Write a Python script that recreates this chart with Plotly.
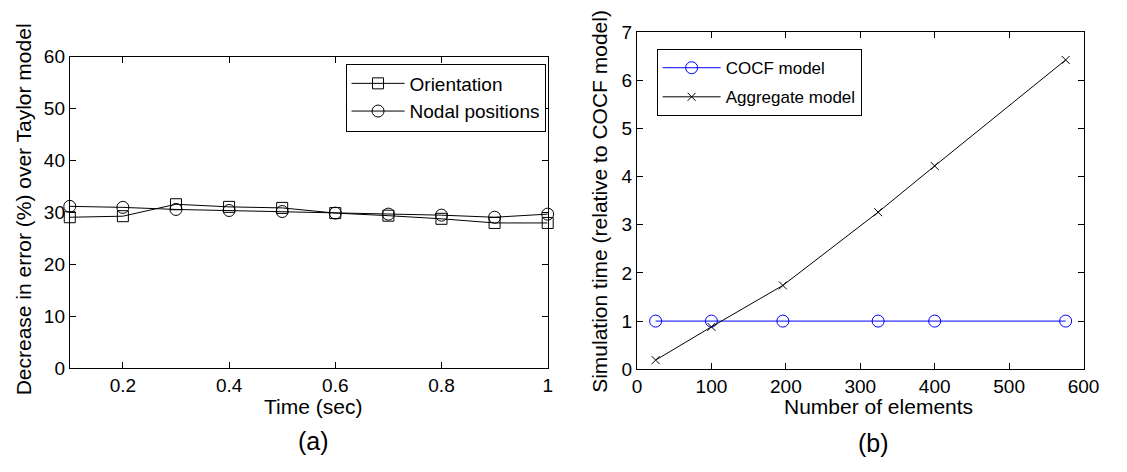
import plotly.graph_objects as go

# ---- data ----
time_sec = [0.1, 0.2, 0.3, 0.4, 0.5, 0.6, 0.7, 0.8, 0.9, 1.0]
orientation = [29.1, 29.3, 31.6, 31.1, 30.9, 29.9, 29.4, 28.8, 28.0, 28.0]
nodal_positions = [31.2, 31.0, 30.6, 30.4, 30.2, 29.9, 29.7, 29.5, 29.1, 29.7]

num_elements = [25, 100, 196, 324, 400, 576]
cocf_model = [1, 1, 1, 1, 1, 1]
aggregate_model = [0.19, 0.88, 1.74, 3.26, 4.22, 6.42]

xa_ticks = [0.2, 0.4, 0.6, 0.8, 1.0]
xa_labels = ["0.2", "0.4", "0.6", "0.8", "1"]

FONT = "Liberation Sans, Arial, sans-serif"
FS = 19      # tick labels
FT = 21      # axis titles
W, H = 1127, 472

def px(x):
    return x / W

def py(y):
    return 1 - y / H

fig = go.Figure()

fig.add_trace(go.Scatter(
    x=time_sec, y=orientation, name="Orientation", mode="lines+markers",
    line=dict(color="black", width=1), cliponaxis=False,
    marker=dict(symbol="square-open", size=11, color="black", line=dict(width=1)),
    xaxis="x", yaxis="y", legend="legend"))
fig.add_trace(go.Scatter(
    x=time_sec, y=nodal_positions, name="Nodal positions", mode="lines+markers",
    line=dict(color="black", width=1), cliponaxis=False,
    marker=dict(symbol="circle-open", size=12, color="black", line=dict(width=1)),
    xaxis="x", yaxis="y", legend="legend"))

fig.add_trace(go.Scatter(
    x=num_elements, y=cocf_model, name="COCF model", mode="lines+markers",
    line=dict(color="#0000ff", width=1), cliponaxis=False,
    marker=dict(symbol="circle-open", size=12, color="#0000ff", line=dict(width=1)),
    xaxis="x2", yaxis="y2", legend="legend2", legendgroup="c"))
fig.add_trace(go.Scatter(
    x=num_elements, y=aggregate_model, name="Aggregate model", mode="lines+markers",
    line=dict(color="black", width=1), cliponaxis=False,
    marker=dict(symbol="x-thin-open", size=8, color="black", line=dict(width=1, color="black")),
    xaxis="x2", yaxis="y2", legend="legend2", legendgroup="a"))

axis_common = dict(
    showline=True, linecolor="black", linewidth=1, mirror="allticks",
    ticks="inside", ticklen=6, tickcolor="black", showgrid=False, zeroline=False,
    tickfont=dict(family=FONT, size=FS, color="black"),
)

title_font = dict(family=FONT, size=FT, color="black")

fig.update_layout(
    width=W, height=H,
    margin=dict(l=0, r=0, t=0, b=0),
    paper_bgcolor="white", plot_bgcolor="white",
    font=dict(family=FONT, size=FS, color="black"),
    xaxis=dict(domain=[px(66), px(553)], anchor="y", range=[0.1, 1.0],
               tickvals=xa_ticks, ticktext=xa_labels, **axis_common),
    yaxis=dict(domain=[py(375), py(49)], anchor="x", range=[0, 60], dtick=10,
               **axis_common),
    xaxis2=dict(domain=[px(644), px(1099)], anchor="y2", range=[0, 600], dtick=100,
                **axis_common),
    yaxis2=dict(domain=[py(376), py(23)], anchor="x2", range=[0, 7], dtick=1,
                **axis_common),
    legend=dict(x=px(347), y=py(56), xanchor="left", yanchor="top",
                bordercolor="black", borderwidth=1, bgcolor="white",
                font=dict(family=FONT, size=19, color="black"),
                tracegroupgap=0, itemwidth=53),
    legend2=dict(x=px(664), y=py(41), xanchor="left", yanchor="top",
                 bordercolor="black", borderwidth=1, bgcolor="white",
                 font=dict(family=FONT, size=17, color="black"),
                 tracegroupgap=4, itemwidth=58),
    showlegend=True,
    annotations=[
        dict(text="Time (sec)", x=px(314), y=py(415), xref="paper", yref="paper",
             showarrow=False, xanchor="center", yanchor="middle", font=title_font),
        dict(text="Number of elements", x=px(890), y=py(415), xref="paper", yref="paper",
             showarrow=False, xanchor="center", yanchor="middle", font=title_font),
        dict(text="Decrease in error (%) over Taylor model", x=px(19), y=py(209),
             xref="paper", yref="paper", textangle=-90, showarrow=False,
             xanchor="center", yanchor="middle", font=title_font),
        dict(text="Simulation time (relative to COCF model)", x=px(605), y=py(200),
             xref="paper", yref="paper", textangle=-90, showarrow=False,
             xanchor="center", yanchor="middle", font=title_font),
        dict(text="(a)", x=px(314), y=py(451), xref="paper", yref="paper",
             showarrow=False, xanchor="center", yanchor="middle",
             font=dict(family=FONT, size=25, color="black")),
        dict(text="(b)", x=px(885), y=py(453), xref="paper", yref="paper",
             showarrow=False, xanchor="center", yanchor="middle",
             font=dict(family=FONT, size=25, color="black")),
    ],
)

fig.write_html("out.html")
